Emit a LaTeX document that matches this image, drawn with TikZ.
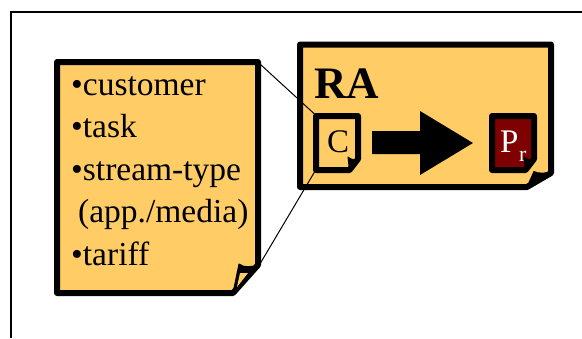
\documentclass[tikz,border=0pt]{standalone}
\usepackage{fontspec}
\setmainfont{Liberation Serif}
\definecolor{notefill}{HTML}{FFCC66}
\definecolor{prfill}{HTML}{7F0000}
\tikzset{
  notepage/.style={draw=black,line width=6pt,line join=round,fill=notefill},
  smallpage/.style={draw=black,line width=6pt,line join=round},
  foldmark/.style={fill=black,draw=black,line width=1pt,line join=round},
  framebox/.style={draw=black,line width=2pt},
  link/.style={draw=black,line width=1pt},
  label/.style={inner sep=0pt,anchor=base west,text=black},
  bigtext/.style={label,font=\fontsize{33.5}{40}\selectfont},
}
\begin{document}
\begin{tikzpicture}[x=1pt,y=-1pt]
\useasboundingbox (0,0) rectangle (582,338);
\fill[white] (0,0) rectangle (582,338);
% outer frame
\draw[framebox] (582,11.5) -- (11,11.5) -- (11,338);
% large note
\draw[notepage] (57,62) -- (258,62) -- (258,265) -- (233,293) -- (57,293) -- cycle;
\fill[foldmark] (233,293) -- (239,264) .. controls (244,268) and (251,267) .. (258,265) -- cycle;
\fill[notefill] (237,287) -- (240,273) -- (248,273) -- cycle;
\node[bigtext] (l1) at (71,95) {•customer};
\node[bigtext] (l2) at (71,137) {•task};
\node[bigtext] (l3) at (71,180) {•stream-type};
\node[bigtext] (l4) at (78,222) {(app./media)};
\node[bigtext] (l5) at (71,265) {•tariff};
% RA note
\draw[notepage] (300,44.5) -- (551,44.5) -- (551,173) -- (527,187) -- (300,187) -- cycle;
\fill[foldmark] (527,187) -- (534,171.5) .. controls (538,174) and (545,173) .. (551,172.5) -- cycle;
\node[label,font=\bfseries\fontsize{45}{50}\selectfont] (ra) at (314,98) {RA};
% connector end points
\coordinate (noteTR) at (260.5,64.5);
\coordinate (noteBR) at (260.5,263);
\coordinate (cTL) at (314.5,114);
\coordinate (cBL) at (314.5,172);
\draw[link] (noteTR) -- (cTL);
\draw[link] (noteBR) -- (cBL);
% C page
\draw[smallpage] (316,116) -- (358,116) -- (358,159) -- (349.5,170) -- (316,170) -- cycle;
\fill[foldmark] (349.5,170) -- (348,157) .. controls (351,160) and (355,160) .. (358,159) -- cycle;
\node[label,font=\fontsize{33}{40}\selectfont] (c) at (327,152) {C};
% arrow
\fill[black] (372,131) -- (420,131) -- (420,111) -- (473,143) -- (420,175) -- (420,154) -- (372,154) -- cycle;
% Pr page
\draw[smallpage,fill=prfill] (492,116) -- (534,116) -- (534,159) -- (525.5,170) -- (492,170) -- cycle;
\node[label,text=white,font=\fontsize{33}{40}\selectfont] (p) at (500,152) {P};
\node[label,text=white,font=\fontsize{22}{26}\selectfont] (r) at (519,161) {r};
\fill[foldmark] (525.5,170) -- (524,157) .. controls (527,160) and (531,160) .. (534,159) -- cycle;
\end{tikzpicture}
\end{document}
